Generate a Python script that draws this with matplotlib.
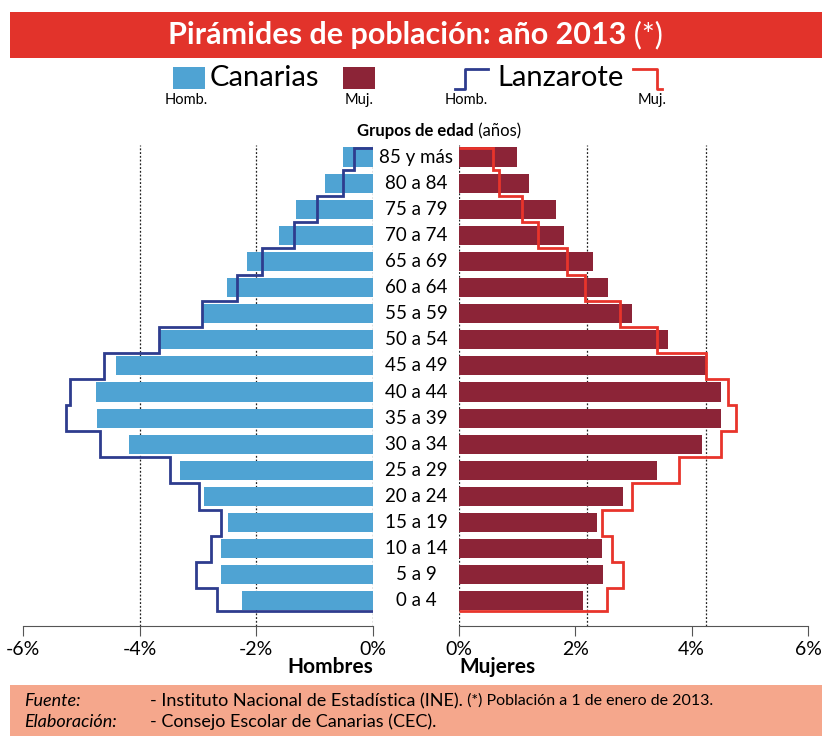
import matplotlib
matplotlib.use("Agg")
import matplotlib.pyplot as plt
from matplotlib.patches import Rectangle
from matplotlib.lines import Line2D
from matplotlib.transforms import blended_transform_factory
import numpy as np

# --- Data (percent of total population, 2013) ---
grupos = ["0 a 4", "5 a 9", "10 a 14", "15 a 19", "20 a 24", "25 a 29", "30 a 34",
          "35 a 39", "40 a 44", "45 a 49", "50 a 54", "55 a 59", "60 a 64",
          "65 a 69", "70 a 74", "75 a 79", "80 a 84", "85 y más"]
canarias_hombres = [2.25, 2.61, 2.61, 2.49, 2.90, 3.31, 4.19, 4.73, 4.75, 4.41,
                    3.65, 2.93, 2.50, 2.16, 1.61, 1.32, 0.82, 0.51]
canarias_mujeres = [2.13, 2.48, 2.45, 2.38, 2.82, 3.41, 4.18, 4.50, 4.50, 4.24,
                    3.59, 2.98, 2.56, 2.31, 1.80, 1.67, 1.21, 0.99]
lanzarote_hombres = [2.68, 3.04, 2.78, 2.61, 2.98, 3.48, 4.68, 5.27, 5.20, 4.62,
                     3.67, 2.93, 2.33, 1.90, 1.36, 0.96, 0.51, 0.33]
lanzarote_mujeres = [2.54, 2.82, 2.63, 2.45, 2.97, 3.78, 4.51, 4.77, 4.62, 4.25,
                     3.40, 2.77, 2.16, 1.85, 1.36, 1.08, 0.69, 0.59]
ticks_izq = [-6, -4, -2, 0]
ticks_der = [0, 2, 4, 6]

# --- Colours ---
AZUL = "#4fa3d3"
GRANATE = "#8c2437"
AZUL_LZ = "#2e3c8e"
ROJO_LZ = "#e8342b"
ROJO_BANNER = "#e2332b"
SALMON = "#f5a78c"

plt.rcParams["font.family"] = ["Lato", "DejaVu Sans"]

W, H = 824, 736
fig = plt.figure(figsize=(W / 100, H / 100), dpi=100)


def fx(px):
    return px / W


def fy(py):
    return 1 - py / H


# background overlay for banner, legend and footer (pixel coords)
bg = fig.add_axes([0, 0, 1, 1], zorder=0)
bg.set_xlim(0, W)
bg.set_ylim(H, 0)
bg.axis("off")

bg.add_patch(Rectangle((10, 12), 812, 46, color=ROJO_BANNER, lw=0))
t1 = bg.text(626, 35, "Pirámides de población: año 2013", color="white",
             fontsize=22, fontweight="bold", ha="right", va="center")
bg.annotate(" (*)", xy=(1, 0.5), xycoords=t1, color="white", fontsize=22,
            ha="left", va="center")

# legend
bg.add_patch(Rectangle((173, 67), 32, 22, color=AZUL, lw=0))
bg.text(210, 78, "Canarias", fontsize=21, ha="left", va="center")
bg.add_patch(Rectangle((343, 67), 32, 22, color=GRANATE, lw=0))
bg.add_line(Line2D([455, 465, 465, 488], [89, 89, 69, 69], color=AZUL_LZ, lw=2))
bg.text(497, 78, "Lanzarote", fontsize=21, ha="left", va="center")
bg.add_line(Line2D([633, 657, 657, 662], [69, 69, 89, 89], color=ROJO_LZ, lw=2))
for x, s in [(165, "Homb."), (345, "Muj."), (445, "Homb."), (638, "Muj.")]:
    bg.text(x, 100, s, fontsize=10.5, ha="left", va="center")

g1 = bg.text(474, 131, "Grupos de edad", fontsize=12, fontweight="bold",
             ha="right", va="center")
bg.annotate(" (años)", xy=(1, 0.5), xycoords=g1, fontsize=12, ha="left", va="center")

# footer
bg.add_patch(Rectangle((10, 685), 812, 60, color=SALMON, lw=0))
bg.text(24, 701, "Fuente:", fontsize=13, style="italic", ha="left", va="center")
f1 = bg.text(150, 701, "- Instituto Nacional de Estadística (INE).", fontsize=13,
             ha="left", va="center")
bg.annotate(" (*) Población a 1 de enero de 2013.", xy=(1, 0.5), xycoords=f1,
            fontsize=11.5, ha="left", va="center")
bg.text(24, 722, "Elaboración:", fontsize=13, style="italic", ha="left", va="center")
bg.text(150, 722, "- Consejo Escolar de Canarias (CEC).", fontsize=13,
        ha="left", va="center")

# --- pyramid axes ---
top_px, bottom_px = 145, 626
axL = fig.add_axes([fx(23), fy(bottom_px), fx(373) - fx(23), (bottom_px - top_px) / H],
                   zorder=1)
axR = fig.add_axes([fx(459), fy(bottom_px), fx(808) - fx(459), (bottom_px - top_px) / H],
                   zorder=1)

y = np.arange(len(grupos))
bar_h = 0.73
edges = np.concatenate([[-0.38], np.arange(len(grupos) - 1) + 0.5, [len(grupos) - 1 + 0.36]])

axL.barh(y, -np.array(canarias_hombres), height=bar_h, color=AZUL, zorder=2)
axL.stairs(-np.array(lanzarote_hombres), edges, orientation="horizontal", baseline=0,
           color=AZUL_LZ, lw=2, zorder=3)
axR.barh(y, canarias_mujeres, height=bar_h, color=GRANATE, zorder=2)
axR.stairs(lanzarote_mujeres, edges, orientation="horizontal", baseline=0,
           color=ROJO_LZ, lw=2, zorder=3)

ylim = (-0.96, 17.46)
for ax, lim, ticks, grid in [(axL, (-6, 0), ticks_izq, [-4, -2, 0]),
                             (axR, (0, 6), ticks_der, [0, 2.2, 4.25])]:
    ax.set_xlim(*lim)
    ax.set_ylim(*ylim)
    ax.patch.set_alpha(0)
    ax.set_yticks([])
    ax.set_xticks(ticks)
    ax.set_xticklabels([f"{t}%" for t in ticks], fontsize=14)
    ax.tick_params(axis="x", direction="out", length=7, color="#555555", pad=4)
    for s in ["top", "left", "right"]:
        ax.spines[s].set_visible(False)
    ax.spines["bottom"].set_color("#555555")
    for g in grid:
        ax.axvline(g, color="#222222", lw=0.9, ls=(0, (1.5, 1.5)), zorder=1)

# age group labels between both halves
tr = blended_transform_factory(fig.transFigure, axL.transData)
for yi, g in zip(y, grupos):
    fig.text(fx(416), yi, g, transform=tr, fontsize=13.5, ha="center", va="center")

fig.text(fx(373), fy(667), "Hombres", fontsize=15, fontweight="bold", ha="right", va="center")
fig.text(fx(459), fy(667), "Mujeres", fontsize=15, fontweight="bold", ha="left", va="center")

fig.savefig("out.png", dpi=100)
